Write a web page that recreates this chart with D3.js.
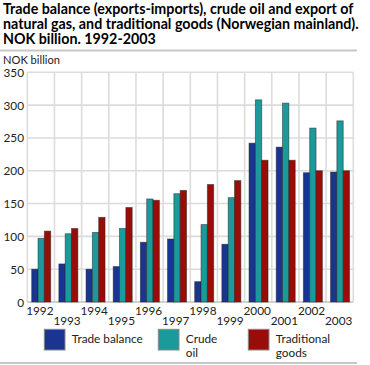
<!DOCTYPE html>
<html><head><meta charset="utf-8">
<script src="https://cdn.jsdelivr.net/npm/d3@7"></script>
<style>body{margin:0;background:#fff}svg{display:block}</style>
</head><body>
<script>
const years = ["1992","1993","1994","1995","1996","1997","1998","1999","2000","2001","2002","2003"];
const tradeBalance = [50, 58, 50, 54, 91, 96, 31, 88, 242, 236, 197, 198];
const crudeOil = [97, 104, 106, 112, 157, 165, 118, 159, 308, 303, 265, 276];
const traditionalGoods = [108, 112, 129, 144, 155, 170, 179, 185, 216, 216, 200, 200];
const seriesNames = ["Trade balance", "Crude oil", "Traditional goods"];
const seriesLegend = [["Trade balance"], ["Crude", "oil"], ["Traditional", "goods"]];
const seriesColors = ["#1a3591", "#1a9a9a", "#990c07"];
const yTicks = [0, 50, 100, 150, 200, 250, 300, 350];
const titleLines = ["Trade balance (exports-imports), crude oil and export of", "natural gas, and traditional goods (Norwegian mainland).", "NOK billion. 1992-2003"];

const W = 370, H = 365;
const font = "Lato, 'Open Sans', sans-serif";
const svg = d3.select("body").append("svg").attr("width", W).attr("height", H);

// measure helper: font size giving target width
function fitSize(text, weight, target) {
  const t = svg.append("text").attr("font-family", font).attr("font-weight", weight)
    .attr("font-size", 100).text(text);
  const w = t.node().getComputedTextLength();
  t.remove();
  return 100 * target / w;
}
const titleFs = fitSize(titleLines[0], "bold", 351);
const labelFs = Math.min(fitSize("Trade balance", "normal", 71), 13);
const yLabFs = fitSize("NOK billion", "normal", 57);

svg.selectAll("text.title").data(titleLines).join("text")
  .attr("x", 3).attr("y", (d, i) => 14.3 + i * 14.6)
  .attr("font-family", font).attr("font-weight", "bold").attr("font-size", titleFs)
  .attr("fill", "#000").text(d => d);

svg.append("line").attr("x1", 0).attr("x2", 357).attr("y1", 50.5).attr("y2", 50.5)
  .attr("stroke", "#c8c8c8").attr("stroke-width", 2);
svg.append("line").attr("x1", 0).attr("x2", 357).attr("y1", 363).attr("y2", 363)
  .attr("stroke", "#c8c8c8").attr("stroke-width", 2);

const x = d3.scaleBand().domain(years).range([27.3, 353.3]);
const y = d3.scaleLinear().domain([0, 350]).range([302, 72.3]);
const xi = d3.scaleBand().domain(seriesNames).range([4.4, 23.4]);

// grid
const g = svg.append("g");
g.selectAll("line.h").data(yTicks).join("line")
  .attr("x1", 27.3).attr("x2", 353.3).attr("y1", d => y(d)).attr("y2", d => y(d))
  .attr("stroke", "#dcdcdc").attr("stroke-width", 1.6);
const vlines = years.map(yr => x(yr)).concat([x(years[years.length - 1]) + x.bandwidth()]);
g.selectAll("line.v").data(vlines).join("line")
  .attr("x1", d => d).attr("x2", d => d).attr("y1", y(350)).attr("y2", y(0))
  .attr("stroke", "#dcdcdc").attr("stroke-width", 1.6);
g.append("line").attr("x1", 27.3).attr("x2", 353.3).attr("y1", y(0)).attr("y2", y(0))
  .attr("stroke", "#bdbdbd").attr("stroke-width", 1.2);

// y axis labels
svg.selectAll("text.yt").data(yTicks).join("text")
  .attr("x", 24).attr("y", d => y(d) + 4.5).attr("text-anchor", "end")
  .attr("font-family", font).attr("font-size", labelFs).attr("fill", "#222").text(d => d);
svg.append("text").attr("x", 3).attr("y", 64.3).attr("font-family", font)
  .attr("font-size", yLabFs).attr("fill", "#222").text("NOK billion");

// bars
const allSeries = [tradeBalance, crudeOil, traditionalGoods];
allSeries.forEach((vals, si) => {
  svg.append("g").selectAll("rect").data(vals).join("rect")
    .attr("x", (d, i) => x(years[i]) + xi(seriesNames[si]))
    .attr("width", xi.bandwidth())
    .attr("y", d => y(d)).attr("height", d => y(0) - y(d))
    .attr("fill", seriesColors[si])
    .attr("stroke", "#222").attr("stroke-opacity", 0.55).attr("stroke-width", 0.9);
});

// x labels
svg.selectAll("text.xt").data(years).join("text")
  .attr("x", d => x(d) + x.bandwidth() / 2 - 1)
  .attr("y", (d, i) => i % 2 === 0 ? 315 : 325)
  .attr("text-anchor", "middle").attr("font-family", font).attr("font-size", labelFs)
  .attr("fill", "#222").text(d => d);

// legend
const legX = [44.3, 158.3, 248.3];
seriesNames.forEach((s, i) => {
  svg.append("rect").attr("x", legX[i]).attr("y", 329.3).attr("width", 20.7).attr("height", 20.7)
    .attr("fill", seriesColors[i]).attr("stroke", "#888").attr("stroke-width", 1);
  seriesLegend[i].forEach((line, j) => {
    svg.append("text").attr("x", legX[i] + 27.5).attr("y", 343 + j * 14.3)
      .attr("font-family", font).attr("font-size", labelFs).attr("fill", "#222").text(line);
  });
});
</script>
</body></html>
